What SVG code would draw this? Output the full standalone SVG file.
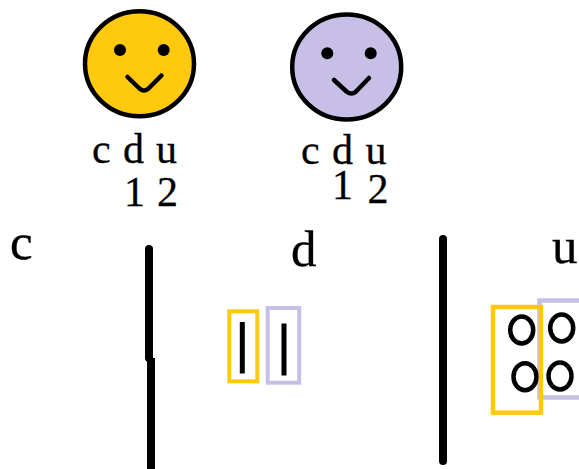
<svg xmlns="http://www.w3.org/2000/svg" width="579" height="469" viewBox="0 0 579 469">
<style>
.t{font-family:"Liberation Serif","Times New Roman",serif;font-size:42px;fill:#000;stroke:#000;stroke-width:.3}
.n{font-size:42px}
.h{font-size:51px}
.face{stroke:#000;stroke-width:4.5}
.smile{fill:none;stroke:#000;stroke-width:4.5;stroke-linecap:round;stroke-linejoin:round}
.y{fill:none;stroke:#FFC90E}
.p{fill:none;stroke:#C8BFE7}
.o{fill:none;stroke:#000;stroke-width:4.5}
</style>
<rect width="579" height="469" fill="#fff"/>
<g id="face-yellow">
<ellipse class="face" cx="139.500" cy="63.700" rx="54.500" ry="52.500" fill="#FFC90E"/>
<circle cx="120" cy="50" r="6"/><circle cx="163.700" cy="50" r="6"/>
<path class="smile" d="M127.500 77 L140 89 Q144 92 148 89 L161.500 75.500"/>
<text class="t" x="92" y="163">c</text><text class="t" x="123" y="163">d</text><text class="t" x="156" y="163">u</text>
<text class="t n" x="124" y="206">1</text><text class="t n" x="157" y="206">2</text>
</g>
<g id="face-purple">
<ellipse class="face" cx="346.700" cy="67" rx="54.500" ry="52.500" fill="#C8BFE7"/>
<circle cx="327.300" cy="53.300" r="6"/><circle cx="370.700" cy="53.300" r="6"/>
<path class="smile" d="M334 80 L347 92 Q351.500 95 355.500 92 L369 78"/>
<text class="t" x="301" y="164">c</text><text class="t" x="332" y="164">d</text><text class="t" x="365.500" y="164">u</text>
<text class="t n" x="332" y="199">1</text><text class="t n" x="367.500" y="203">2</text>
</g>
<g id="headings">
<text class="t h" x="10" y="259">c</text>
<text class="t h" x="291" y="266">d</text>
<text class="t h" x="552" y="263">u</text>
</g>
<g id="dividers" stroke="#000" stroke-width="8">
<path d="M149 249 V358" stroke-linecap="round"/>
<path d="M151 358 V469"/>
<path d="M443 239 V461" stroke-linecap="round"/>
</g>
<g id="d-yellow">
<rect class="y" x="229.300" y="311.300" width="28" height="70" stroke-width="4"/>
<rect x="239.800" y="322" width="5" height="51.500"/>
</g>
<g id="d-purple">
<rect class="p" x="267.700" y="308" width="31.500" height="74.700" stroke-width="4"/>
<rect x="281.500" y="323.500" width="5" height="52"/>
</g>
<g id="u-purple">
<rect class="p" x="539.500" y="300.500" width="60" height="97" stroke-width="4.500"/>
<ellipse class="o" cx="561.700" cy="328" rx="11.500" ry="13.500"/>
<ellipse class="o" cx="560" cy="376" rx="11.500" ry="13.500"/>
</g>
<g id="u-yellow">
<ellipse class="o" cx="521.700" cy="330" rx="11.500" ry="13.500"/>
<ellipse class="o" cx="525" cy="376.700" rx="11.500" ry="13.500"/>
<rect class="y" x="493" y="307" width="48" height="105.700" stroke-width="4.500"/>
</g>
</svg>
